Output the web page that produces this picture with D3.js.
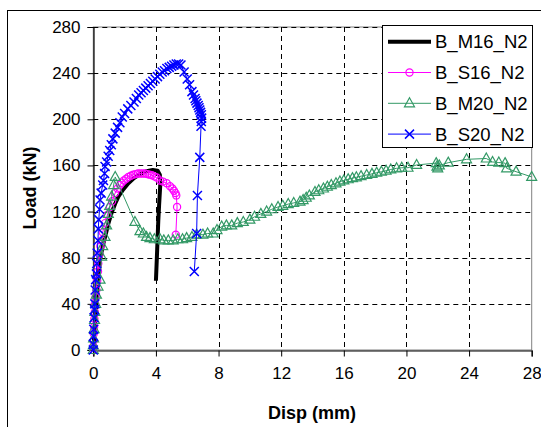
<!DOCTYPE html>
<html><head><meta charset="utf-8">
<script src="https://cdn.jsdelivr.net/npm/d3@7"></script>
<style>html,body{margin:0;padding:0;background:#fff;}svg{display:block;font-family:Arial,"Liberation Sans",sans-serif;}</style>
</head><body>
<svg id="c" width="541" height="427"></svg>
<script>
// ---- data ----
const seriesNames = ["B_M16_N2", "B_S16_N2", "B_M20_N2", "B_S20_N2"];
const xTicks = [0, 4, 8, 12, 16, 20, 24, 28];
const yTicks = [0, 40, 80, 120, 160, 200, 240, 280];

const m16 = [[0,0],[0.1,20],[0.2,43],[0.3,60],[0.43,78],[0.6,90],[0.75,98],[0.95,109],[1.17,119],[1.4,127],[1.6,133],[1.9,139],[2.24,144.5],[2.6,149],[2.98,152.5],[3.4,155],[3.8,156],[4.1,155.5],[4.25,152],[4.28,144],[4.2,125],[4.15,112],[4.08,87],[4.0,60]];

const s16 = [[0,0],[0,3],[0.02,8],[0.03,14],[0.05,20],[0.07,27],[0.1,33],[0.12,40],[0.15,46],[0.2,52],[0.25,60],[0.3,68],[0.32,75],[0.4,83],[0.45,90],[0.53,95],[0.6,102],[0.75,110],[0.9,117],[1.07,124],[1.2,129],[1.39,136],[1.55,140],[1.7,143],[1.81,145],[1.95,147],[2.1,148.5],[2.24,150],[2.4,151],[2.55,152],[2.7,152.5],[2.85,153],[3.0,153],[3.15,153],[3.3,153],[3.45,152.5],[3.6,152],[3.75,151.5],[3.9,150.5],[4.05,149.5],[4.26,147],[4.45,146],[4.69,144.5],[4.9,142],[5.05,140],[5.15,138],[5.25,136],[5.3,134],[5.35,124],[5.27,100]];

const m20 = [[0,0],[0,4],[0.02,10],[0.05,18],[0.08,26],[0.1,33],[0.15,40],[0.2,48],[0.3,55],[0.43,61],[0.53,81],[0.6,90],[0.75,98],[0.85,108],[0.96,118],[1.05,125],[1.17,133],[1.3,143],[1.4,150],[2.66,111],[2.98,103],[3.2,101],[3.4,98],[3.62,97],[3.9,96],[4.26,96],[4.5,95],[4.79,95],[5.1,95],[5.4,96],[5.7,96],[5.96,97],[6.3,98],[6.6,100],[7.0,100],[7.3,101],[7.66,101],[7.9,104],[8.2,107],[8.5,108],[8.84,108],[9.2,110],[9.58,111],[10.0,113],[10.3,115.5],[10.7,118],[11.07,120],[11.4,122],[11.8,124],[12.1,125],[12.45,126.5],[12.8,127.5],[13.2,128.6],[13.4,130],[13.6,132],[13.8,134],[14.16,137],[14.4,138.5],[14.7,140],[14.95,141.5],[15.2,143],[15.5,144.5],[15.75,146],[16.0,147],[16.28,148],[16.55,149],[16.8,149.7],[17.1,150.7],[17.46,151.7],[17.8,152.7],[18.1,153.7],[18.4,154.5],[18.7,155.4],[19.0,156.5],[19.37,157.5],[19.7,158],[20.1,158],[20.65,160.4],[21.9,162],[21.95,159],[22.0,157.5],[22.1,160],[22.67,162.4],[23.84,165.3],[25.1,166],[25.5,163],[25.9,162.5],[26.3,162],[26.4,157.5],[27.0,154.6],[28.0,150]];

const s20 = [[0,0],[0,5],[0.02,12],[0.03,18],[0.05,28],[0.08,35],[0.1,40],[0.12,52],[0.15,61],[0.2,66],[0.22,75],[0.25,84],[0.3,95],[0.32,105],[0.35,113],[0.4,122],[0.43,130],[0.5,136],[0.6,143],[0.65,147],[0.72,153],[0.75,159],[0.85,163],[0.95,168],[1.05,173],[1.15,178],[1.25,183],[1.4,188],[1.55,193],[1.7,197],[1.85,202],[2.0,205],[2.2,209],[2.4,212],[2.6,215],[2.75,218],[2.9,221],[3.05,223],[3.2,225],[3.35,227],[3.5,229],[3.65,231],[3.8,233],[3.95,235],[4.1,237],[4.25,239],[4.4,241],[4.55,242],[4.7,244],[4.85,245],[5.0,246],[5.15,247],[5.3,248],[5.45,248],[5.6,247],[5.8,241],[6.0,235],[6.15,230],[6.3,224],[6.4,221],[6.5,218],[6.55,216],[6.62,214],[6.7,212],[6.75,210],[6.8,208],[6.85,206],[6.9,204],[6.92,201],[6.9,198],[6.88,194],[6.8,167],[6.65,134],[6.6,101],[6.45,68]];

const allSeries = [m16, s16, m20, s20];
const colors = ["#000000", "#FF00FF", "#339966", "#0000FF"];
const widths = [4, 1, 1, 1];
const markers = ["none", "circle", "triangle", "x"];

// ---- layout ----
const svg = d3.select("#c");
const x = d3.scaleLinear().domain([0, 28]).range([93.3, 531.7]);
const y = d3.scaleLinear().domain([0, 280]).range([350, 27]);

// outer frame
svg.append("rect").attr("x", 7.5).attr("y", 10.5).attr("width", 700).attr("height", 600)
  .attr("fill", "#fff").attr("stroke", "#000").attr("stroke-width", 1);

// plot area border (gray)
svg.append("rect").attr("x", x(0)).attr("y", y(280)).attr("width", x(28) - x(0)).attr("height", y(0) - y(280))
  .attr("fill", "none").attr("stroke", "#808080").attr("stroke-width", 1);

// gridlines
const g = svg.append("g");
g.selectAll(".hg").data(yTicks.filter(d => d > 0)).join("line")
  .attr("x1", x(0)).attr("x2", x(28)).attr("y1", d => Math.round(y(d)) + 0.5).attr("y2", d => Math.round(y(d)) + 0.5)
  .attr("stroke", "#000").attr("stroke-width", 1).attr("stroke-dasharray", "5,4");
g.selectAll(".vg").data(xTicks.filter(d => d > 0 && d < 28)).join("line")
  .attr("y1", y(280)).attr("y2", y(0)).attr("x1", d => Math.round(x(d)) + 0.5).attr("x2", d => Math.round(x(d)) + 0.5)
  .attr("stroke", "#000").attr("stroke-width", 1).attr("stroke-dasharray", "5,4");

// axes
const xAxis = d3.axisBottom(x).tickValues(xTicks).tickSize(6).tickPadding(10);
const yAxis = d3.axisLeft(y).tickValues(yTicks).tickSize(6).tickPadding(7);
const gx = svg.append("g").attr("transform", `translate(0,${Math.round(y(0)) + 0.5})`).call(xAxis);
const gy = svg.append("g").attr("transform", `translate(${Math.round(x(0)) + 0.5},0)`).call(yAxis);
[gx, gy].forEach(a => {
  a.select(".domain").attr("stroke", "#000").attr("stroke-width", 1.2);
  a.selectAll(".tick line").attr("stroke", "#000");
  a.selectAll(".tick text").attr("fill", "#000").style("font-size", "17px").style("font-family", "Arial, 'Liberation Sans', sans-serif");
});

// axis titles
svg.append("text").attr("x", 312).attr("y", 419).attr("text-anchor", "middle")
  .style("font-size", "18px").style("font-weight", "bold").text("Disp (mm)");
svg.append("text").attr("transform", "translate(36,188) rotate(-90)").attr("text-anchor", "middle")
  .style("font-size", "18px").style("font-weight", "bold").text("Load (kN)");

// marker drawing
function drawMarker(sel, type, color) {
  if (type === "circle") {
    sel.append("circle").attr("r", 3.6).attr("fill", "none").attr("stroke", color).attr("stroke-width", 1.2);
  } else if (type === "triangle") {
    sel.append("path").attr("d", "M0,-5.5L5,3.5L-5,3.5Z").attr("fill", "none").attr("stroke", color).attr("stroke-width", 1.2);
  } else if (type === "x") {
    sel.append("path").attr("d", "M-4.5,-4.5L4.5,4.5M-4.5,4.5L4.5,-4.5").attr("fill", "none").attr("stroke", color).attr("stroke-width", 1.5);
  }
}

// series
const line = d3.line().x(d => x(d[0])).y(d => y(d[1]));
allSeries.forEach((data, i) => {
  const sg = svg.append("g");
  sg.append("path").datum(data).attr("d", line).attr("fill", "none")
    .attr("stroke", colors[i]).attr("stroke-width", widths[i]).attr("stroke-linejoin", "round");
  if (markers[i] !== "none") {
    sg.selectAll("g.m").data(data).join("g").attr("class", "m")
      .attr("transform", d => `translate(${x(d[0])},${y(d[1])})`)
      .each(function () { drawMarker(d3.select(this), markers[i], colors[i]); });
  }
});

// legend
const lg = svg.append("g");
lg.append("rect").attr("x", 382.5).attr("y", 25.5).attr("width", 150).attr("height", 122)
  .attr("fill", "#fff").attr("stroke", "#000").attr("stroke-width", 1);
seriesNames.forEach((name, i) => {
  const cy = 41.7 + i * 30.8;
  lg.append("line").attr("x1", 388).attr("x2", 431).attr("y1", cy).attr("y2", cy)
    .attr("stroke", colors[i]).attr("stroke-width", widths[i]);
  if (markers[i] !== "none") drawMarker(lg.append("g").attr("transform", `translate(409.5,${cy})`), markers[i], colors[i]);
  lg.append("text").attr("x", 435).attr("y", cy).attr("dy", "0.35em")
    .style("font-size", "18.5px").text(name);
});
</script>
</body></html>
